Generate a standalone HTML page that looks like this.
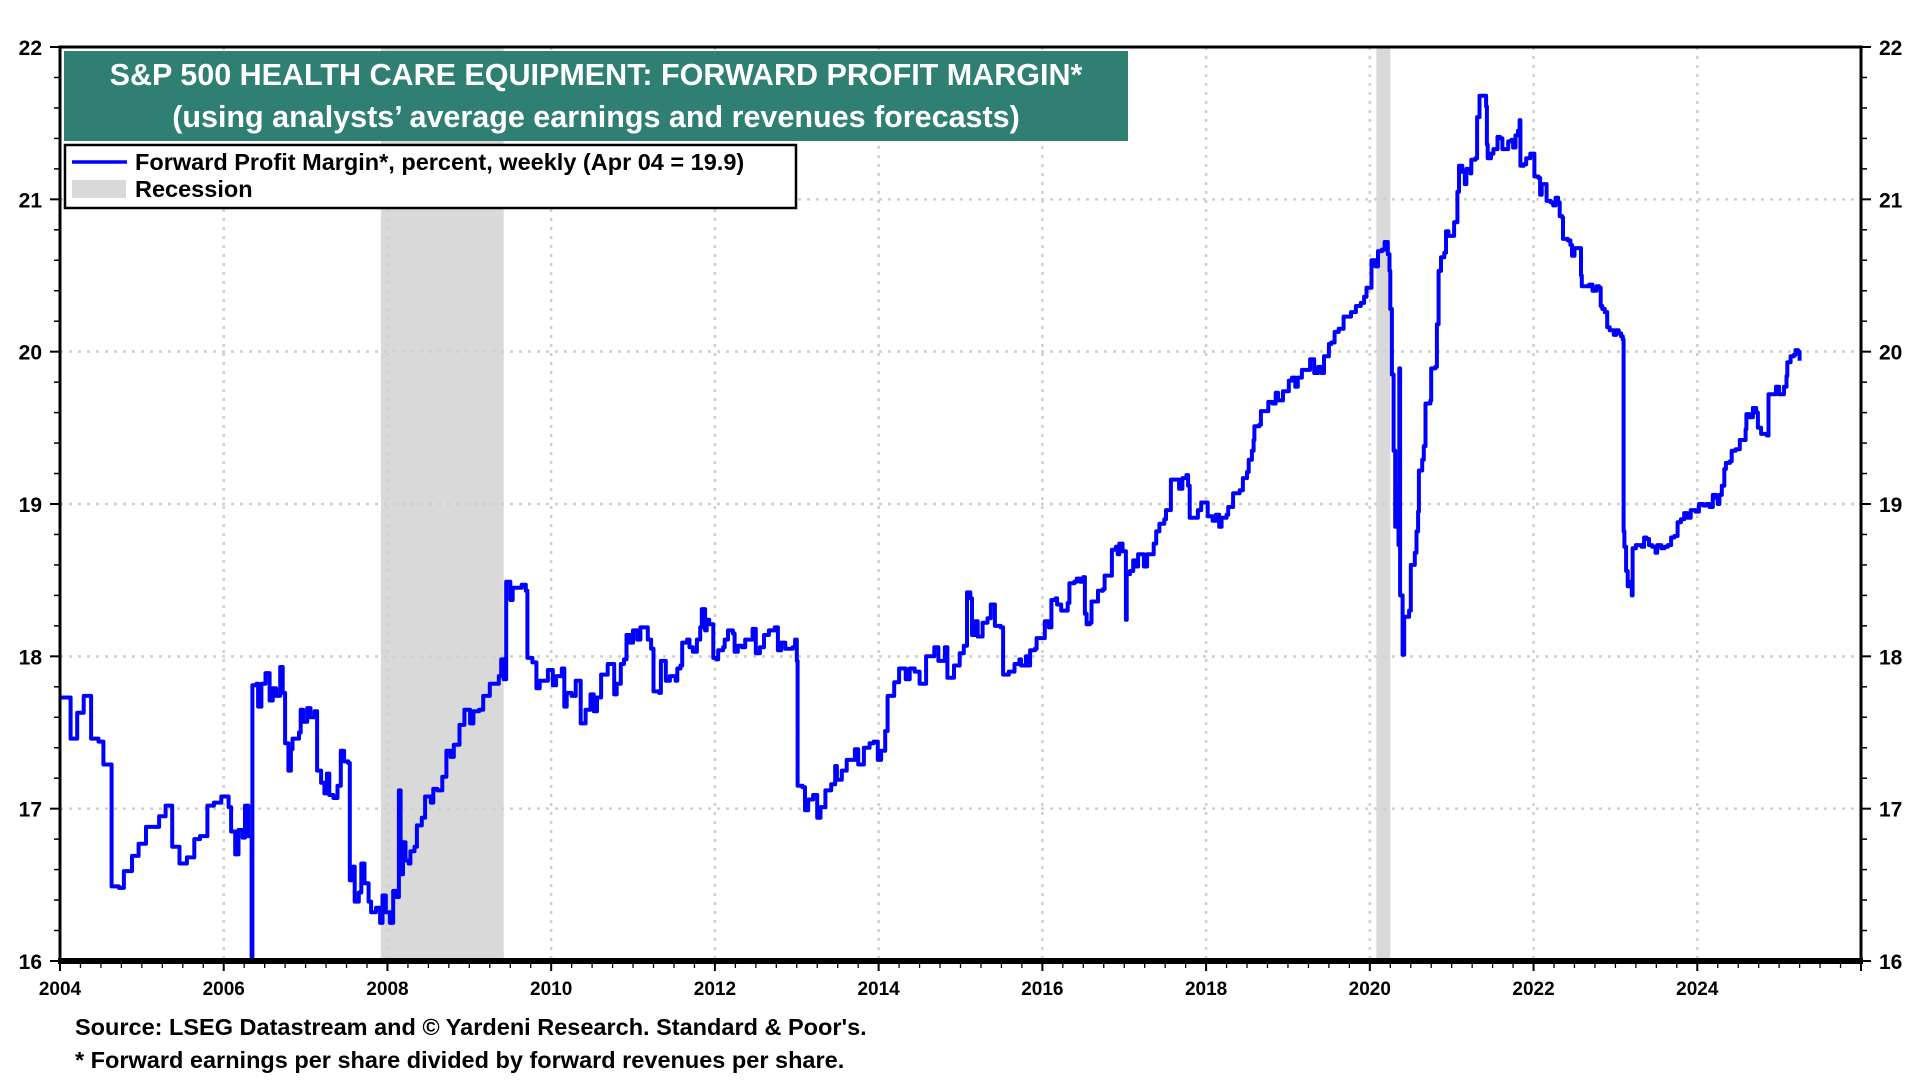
<!DOCTYPE html>
<html><head><meta charset="utf-8"><style>
html,body{margin:0;padding:0;background:#fff;}
body{width:1920px;height:1080px;overflow:hidden;font-family:"Liberation Sans",Arial,sans-serif;}
svg text{font-family:"Liberation Sans",Arial,sans-serif;font-weight:bold;}
</style></head><body>
<svg id="chart" width="1920" height="1080" xmlns="http://www.w3.org/2000/svg">
<g id="recessions"></g>
<g id="grid"></g>
<g id="series"></g>
<g id="axes"></g>
<g>
<rect x="64" y="51" width="1064" height="90" fill="#2f7f72"/>
<text x="596" y="85" font-size="30.5" fill="#fff" text-anchor="middle">S&amp;P 500 HEALTH CARE EQUIPMENT: FORWARD PROFIT MARGIN*</text>
<text x="596" y="127" font-size="30.5" fill="#fff" text-anchor="middle">(using analysts’ average earnings and revenues forecasts)</text>
</g>
<g>
<rect x="65" y="145" width="731" height="63" fill="#fff" stroke="#000" stroke-width="2.5"/>
<g>
<line x1="72" y1="162" x2="127" y2="162" stroke="#0000ff" stroke-width="3.5"/>
<text x="135" y="170" font-size="23.5" fill="#000">Forward Profit Margin*, percent, weekly (Apr 04 = 19.9)</text>
</g>
<g>
<rect x="72" y="180" width="54" height="18" fill="#d9d9d9"/>
<text x="135" y="197" font-size="23.5" fill="#000">Recession</text>
</g>
</g>
<text x="75" y="1035" font-size="23.5" fill="#000">Source: LSEG Datastream and © Yardeni Research. Standard &amp; Poor's.</text>
<text x="75" y="1068" font-size="23.5" fill="#000">* Forward earnings per share divided by forward revenues per share.</text>
</svg>
<script>
const xTickYears = [2004,2006,2008,2010,2012,2014,2016,2018,2020,2022,2024];
const yTickValues = [16,17,18,19,20,21,22];
const recessionStarts = [2007.92, 2020.08];
const recessionEnds = [2009.42, 2020.25];
const dates = [2004.0,2004.13,2004.13,2004.21,2004.29,2004.38,2004.47,2004.53,2004.63,2004.72,2004.78,2004.88,2004.96,2005.05,2005.21,2005.29,2005.37,2005.46,2005.55,2005.64,2005.71,2005.8,2005.88,2005.97,2006.06,2006.09,2006.14,2006.18,2006.23,2006.26,2006.3,2006.34,2006.35,2006.4,2006.42,2006.46,2006.51,2006.56,2006.6,2006.64,2006.69,2006.72,2006.75,2006.79,2006.82,2006.84,2006.92,2006.94,2006.97,2007.02,2007.06,2007.11,2007.14,2007.19,2007.23,2007.26,2007.29,2007.34,2007.39,2007.43,2007.47,2007.52,2007.54,2007.58,2007.6,2007.65,2007.68,2007.72,2007.77,2007.8,2007.86,2007.91,2007.94,2007.98,2008.03,2008.07,2008.11,2008.14,2008.16,2008.19,2008.22,2008.26,2008.28,2008.33,2008.36,2008.42,2008.46,2008.53,2008.56,2008.61,2008.67,2008.72,2008.77,2008.81,2008.88,2008.94,2009.01,2009.05,2009.12,2009.17,2009.25,2009.36,2009.39,2009.42,2009.45,2009.5,2009.53,2009.64,2009.69,2009.71,2009.77,2009.82,2009.86,2009.96,2010.02,2010.06,2010.13,2010.16,2010.19,2010.25,2010.3,2010.36,2010.42,2010.48,2010.52,2010.56,2010.61,2010.69,2010.77,2010.8,2010.85,2010.89,2010.92,2010.96,2011.0,2011.05,2011.09,2011.14,2011.18,2011.22,2011.25,2011.32,2011.34,2011.4,2011.45,2011.52,2011.54,2011.58,2011.6,2011.66,2011.69,2011.73,2011.78,2011.82,2011.84,2011.88,2011.9,2011.93,2011.98,2012.02,2012.04,2012.1,2012.12,2012.16,2012.22,2012.24,2012.28,2012.33,2012.37,2012.46,2012.5,2012.55,2012.6,2012.66,2012.73,2012.77,2012.81,2012.86,2012.95,2012.98,2013.0,2013.01,2013.07,2013.1,2013.14,2013.2,2013.25,2013.29,2013.35,2013.42,2013.47,2013.49,2013.55,2013.61,2013.71,2013.75,2013.82,2013.89,2013.94,2013.99,2014.03,2014.08,2014.11,2014.19,2014.25,2014.33,2014.38,2014.44,2014.5,2014.58,2014.68,2014.73,2014.81,2014.84,2014.92,2014.99,2015.04,2015.08,2015.12,2015.14,2015.18,2015.21,2015.27,2015.33,2015.37,2015.42,2015.49,2015.52,2015.59,2015.66,2015.72,2015.74,2015.8,2015.82,2015.85,2015.91,2015.93,2015.99,2016.03,2016.08,2016.11,2016.16,2016.18,2016.23,2016.31,2016.33,2016.39,2016.42,2016.46,2016.5,2016.52,2016.54,2016.58,2016.6,2016.66,2016.68,2016.74,2016.76,2016.81,2016.85,2016.9,2016.92,2016.94,2016.96,2016.98,2017.01,2017.02,2017.03,2017.07,2017.11,2017.14,2017.17,2017.21,2017.24,2017.28,2017.34,2017.36,2017.39,2017.43,2017.49,2017.51,2017.57,2017.63,2017.67,2017.71,2017.76,2017.78,2017.8,2017.86,2017.9,2017.94,2018.0,2018.02,2018.08,2018.12,2018.16,2018.19,2018.25,2018.27,2018.33,2018.41,2018.45,2018.5,2018.52,2018.56,2018.58,2018.59,2018.65,2018.67,2018.74,2018.76,2018.81,2018.85,2018.88,2018.94,2019.01,2019.05,2019.09,2019.12,2019.17,2019.24,2019.27,2019.32,2019.37,2019.41,2019.44,2019.5,2019.53,2019.57,2019.62,2019.68,2019.73,2019.77,2019.83,2019.89,2019.93,2019.96,2020.0,2020.02,2020.07,2020.1,2020.15,2020.18,2020.22,2020.24,2020.25,2020.27,2020.29,2020.31,2020.33,2020.35,2020.36,2020.37,2020.4,2020.42,2020.48,2020.5,2020.55,2020.57,2020.59,2020.6,2020.64,2020.66,2020.68,2020.74,2020.75,2020.8,2020.82,2020.84,2020.87,2020.91,2020.93,2020.96,2021.01,2021.03,2021.06,2021.07,2021.09,2021.13,2021.16,2021.18,2021.23,2021.24,2021.29,2021.31,2021.34,2021.39,2021.42,2021.43,2021.44,2021.48,2021.51,2021.54,2021.56,2021.59,2021.62,2021.66,2021.69,2021.73,2021.75,2021.78,2021.81,2021.83,2021.84,2021.88,2021.91,2021.94,2021.96,2022.0,2022.01,2022.06,2022.08,2022.1,2022.15,2022.16,2022.21,2022.24,2022.27,2022.3,2022.32,2022.35,2022.36,2022.42,2022.45,2022.47,2022.5,2022.56,2022.58,2022.59,2022.68,2022.72,2022.77,2022.8,2022.82,2022.84,2022.87,2022.9,2022.93,2022.98,2023.01,2023.04,2023.07,2023.09,2023.1,2023.11,2023.13,2023.15,2023.18,2023.2,2023.21,2023.25,2023.29,2023.32,2023.35,2023.38,2023.41,2023.45,2023.49,2023.51,2023.56,2023.6,2023.64,2023.68,2023.72,2023.76,2023.8,2023.84,2023.88,2023.92,2023.98,2024.02,2024.07,2024.11,2024.15,2024.19,2024.23,2024.25,2024.27,2024.3,2024.33,2024.35,2024.4,2024.42,2024.47,2024.52,2024.55,2024.59,2024.6,2024.64,2024.68,2024.72,2024.74,2024.78,2024.85,2024.87,2024.92,2024.96,2025.0,2025.06,2025.09,2025.1,2025.14,2025.18,2025.2,2025.23,2025.25];
const margins = [17.73,17.73,17.46,17.63,17.74,17.46,17.44,17.29,16.49,16.48,16.59,16.69,16.77,16.88,16.95,17.02,16.75,16.64,16.68,16.8,16.82,17.02,17.04,17.08,17.01,16.85,16.7,16.86,16.81,17.02,16.82,15.5,17.81,17.82,17.67,17.82,17.89,17.71,17.79,17.74,17.93,17.76,17.43,17.25,17.39,17.46,17.5,17.65,17.57,17.66,17.6,17.64,17.25,17.17,17.1,17.23,17.09,17.07,17.15,17.38,17.31,17.3,16.53,16.62,16.39,16.45,16.64,16.51,16.39,16.32,16.35,16.25,16.43,16.32,16.25,16.46,16.42,17.12,16.57,16.78,16.66,16.64,16.72,16.75,16.89,16.94,17.08,17.04,17.13,17.12,17.21,17.38,17.34,17.42,17.55,17.65,17.56,17.64,17.65,17.74,17.82,17.87,17.98,17.85,18.49,18.37,18.45,18.47,18.43,17.99,17.96,17.79,17.84,17.91,17.81,17.87,17.92,17.67,17.76,17.74,17.84,17.56,17.65,17.75,17.64,17.73,17.88,17.95,17.75,17.82,17.95,17.98,18.14,18.09,18.17,18.11,18.19,18.19,18.11,18.05,17.77,17.76,17.97,17.84,17.87,17.84,17.92,17.94,18.09,18.11,18.06,18.03,18.11,18.19,18.31,18.17,18.24,18.21,17.99,17.98,18.04,18.06,18.11,18.17,18.15,18.03,18.07,18.06,18.11,18.18,18.02,18.06,18.14,18.17,18.19,18.04,18.09,18.05,18.06,18.11,17.97,17.15,17.14,16.99,17.06,17.09,16.94,17.01,17.12,17.16,17.28,17.19,17.25,17.32,17.39,17.29,17.4,17.43,17.44,17.32,17.38,17.51,17.74,17.83,17.92,17.85,17.92,17.9,17.82,18.0,18.06,17.97,18.06,17.86,17.94,18.02,18.07,18.42,18.38,18.14,18.23,18.13,18.22,18.25,18.34,18.2,18.19,17.88,17.9,17.95,17.98,17.94,18.0,17.94,18.04,18.05,18.12,18.12,18.23,18.19,18.37,18.38,18.34,18.3,18.35,18.48,18.49,18.51,18.49,18.52,18.28,18.21,18.22,18.36,18.36,18.43,18.44,18.53,18.53,18.7,18.72,18.67,18.74,18.74,18.69,18.69,18.24,18.54,18.56,18.63,18.59,18.67,18.67,18.59,18.67,18.67,18.74,18.82,18.87,18.9,18.96,19.16,19.16,19.1,19.17,19.19,19.12,18.91,18.91,18.96,19.01,19.01,18.92,18.89,18.93,18.85,18.91,18.93,18.98,19.07,19.09,19.17,19.21,19.29,19.35,19.42,19.51,19.52,19.61,19.61,19.67,19.66,19.73,19.68,19.74,19.81,19.83,19.77,19.83,19.88,19.88,19.95,19.86,19.9,19.86,19.97,20.05,20.06,20.13,20.15,20.23,20.23,20.26,20.3,20.32,20.36,20.42,20.42,20.6,20.56,20.66,20.67,20.72,20.64,20.53,20.28,19.85,19.35,18.85,19.12,18.73,19.89,18.4,18.01,18.26,18.3,18.6,18.68,18.82,18.95,19.22,19.29,19.38,19.66,19.68,19.89,19.9,20.18,20.53,20.62,20.65,20.79,20.76,20.76,20.85,20.85,21.05,21.22,21.18,21.1,21.2,21.17,21.26,21.27,21.54,21.68,21.68,21.61,21.36,21.27,21.3,21.33,21.33,21.41,21.4,21.33,21.33,21.38,21.39,21.34,21.42,21.45,21.52,21.22,21.23,21.27,21.27,21.3,21.3,21.15,21.14,21.03,21.1,21.1,20.99,20.98,20.96,21.01,20.98,20.89,20.88,20.74,20.73,20.7,20.63,20.68,20.68,20.5,20.43,20.44,20.4,20.43,20.42,20.3,20.28,20.26,20.16,20.14,20.11,20.14,20.12,20.1,20.08,18.82,18.72,18.56,18.46,18.49,18.4,18.71,18.73,18.73,18.72,18.78,18.77,18.73,18.72,18.68,18.73,18.71,18.72,18.73,18.78,18.79,18.88,18.9,18.94,18.91,18.96,18.95,19.0,18.99,19.0,18.98,19.06,19.04,19.0,19.06,19.12,19.23,19.27,19.28,19.35,19.36,19.42,19.42,19.49,19.59,19.57,19.63,19.6,19.5,19.46,19.45,19.72,19.72,19.77,19.72,19.77,19.84,19.93,19.97,19.98,20.01,20.0,19.94];

const L=60,R=1861,T=47,B=961;
const X0=2004,X1=2026,Y0=16,Y1=22;
function xs(v){return L+(v-X0)/(X1-X0)*(R-L);}
function ys(v){return B-(v-Y0)/(Y1-Y0)*(B-T);}
const NS='http://www.w3.org/2000/svg';
function mk(tag,attrs,parent){const e=document.createElementNS(NS,tag);for(const k in attrs)e.setAttribute(k,attrs[k]);parent.appendChild(e);return e;}

const gRec=document.getElementById('recessions');
for(let i=0;i<recessionStarts.length;i++){
  const r=mk('rect',{x:xs(recessionStarts[i]),y:T,width:xs(recessionEnds[i])-xs(recessionStarts[i]),height:B-T,fill:'#d9d9d9'},gRec);
  
  
}
const gGrid=document.getElementById('grid');
xTickYears.forEach(y=>{if(y===X0)return;
  const l=mk('line',{x1:xs(y),x2:xs(y),y1:T,y2:B,stroke:'#cfcfcf','stroke-width':2.5,'stroke-dasharray':'3,6'},gGrid);
  
  
});
yTickValues.forEach(v=>{if(v===Y0||v===Y1)return;
  const l=mk('line',{x1:L,x2:R,y1:ys(v),y2:ys(v),stroke:'#cfcfcf','stroke-width':2.5,'stroke-dasharray':'3,6'},gGrid);
  
  
});
const gS=document.getElementById('series');
const clip=mk('clipPath',{id:'pc'},gS);mk('rect',{x:L,y:T,width:R-L,height:B-T},clip);
let d='';
for(let i=0;i<dates.length;i++){
  const x=xs(dates[i]).toFixed(1), y=ys(margins[i]).toFixed(1);
  if(i===0) d+='M'+x+','+y; else d+='H'+x+'V'+y;
}
const path=mk('path',{d:d,fill:'none',stroke:'#0000ff','stroke-width':4,'stroke-linejoin':'round','clip-path':'url(#pc)'},gS);



const gA=document.getElementById('axes');
mk('rect',{x:L,y:T,width:R-L,height:B-T,fill:'none',stroke:'#000','stroke-width':3},gA);
mk('line',{x1:L-2,x2:R+2,y1:B,y2:B,stroke:'#000','stroke-width':6},gA);
for(let q=X0*4;q<=X1*4;q++){const yr=q/4;const major=(q%8===0);
  mk('line',{x1:xs(yr),x2:xs(yr),y1:B,y2:B+(major?10:7),stroke:'#000','stroke-width':major?2:1.3},gA);}
xTickYears.forEach(y=>{
  const t=mk('text',{x:xs(y),y:B+34,'font-size':19,'text-anchor':'middle',fill:'#000'},gA);
  t.textContent=y;
  
  
});
for(let k=0;k<=30;k++){const v=Y0+k*0.2;const major=(k%5===0);const len=major?10:6;
  mk('line',{x1:L-len,x2:L,y1:ys(v),y2:ys(v),stroke:'#000','stroke-width':major?2:1.5},gA);
  mk('line',{x1:R,x2:R+len,y1:ys(v),y2:ys(v),stroke:'#000','stroke-width':major?2:1.5},gA);}
yTickValues.forEach(v=>{
  const a=mk('text',{x:42,y:ys(v)+8,'font-size':21,'text-anchor':'end',fill:'#000'},gA);
  a.textContent=v;
  
  
  const b=mk('text',{x:1879,y:ys(v)+8,'font-size':21,'text-anchor':'start',fill:'#000'},gA);
  b.textContent=v;
  
  
});
</script>
</body></html>
